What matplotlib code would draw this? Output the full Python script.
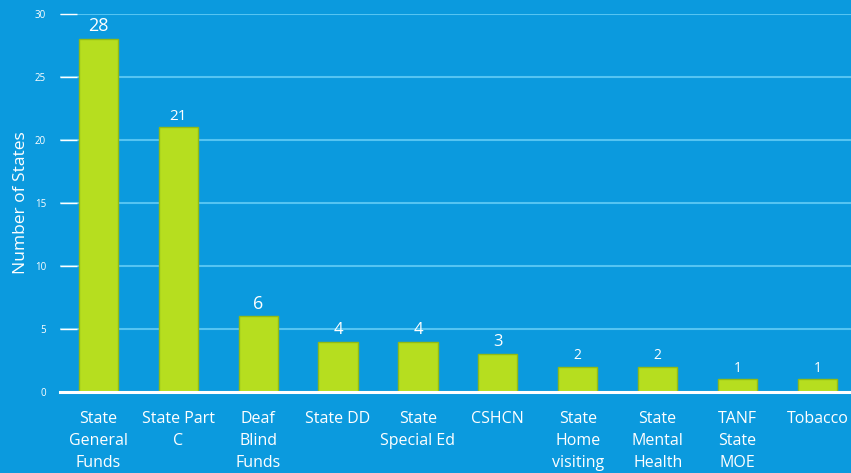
import matplotlib
matplotlib.use("Agg")
import matplotlib.pyplot as plt

# Data
categories = ["State\nGeneral\nFunds", "State Part\nC", "Deaf\nBlind\nFunds",
              "State DD", "State\nSpecial Ed", "CSHCN", "State\nHome\nvisiting",
              "State\nMental\nHealth", "TANF\nState\nMOE", "Tobacco"]
counts = [28, 21, 6, 4, 4, 3, 2, 2, 1, 1]
y_ticks = [0, 5, 10, 15, 20, 25, 30]

BG = "#0b9ade"
BAR = "#b6de1f"
BAR_EDGE = "#93bb12"
GRID = "#55c4f2"
label_sizes = [13, 11, 13, 12, 12, 12, 10, 10, 10, 10]

plt.rcParams["font.family"] = ["Open Sans", "DejaVu Sans"]

fig = plt.figure(figsize=(8.51, 4.73), dpi=100, facecolor=BG)
ax = fig.add_axes([60 / 851, (473 - 392) / 473, 791 / 851, 378 / 473])
ax.set_facecolor(BG)

x = list(range(len(categories)))
bars = ax.bar(x, counts, width=0.49, color=BAR, edgecolor=BAR_EDGE,
              linewidth=1, zorder=3)

for xi, v, fs in zip(x, counts, label_sizes):
    ax.text(xi, v + 0.3, str(v), ha="center", va="bottom",
            color="white", fontsize=fs, zorder=4)

ax.set_xlim(-0.48, 9.42)
ax.set_ylim(0, 30)
ax.set_yticks(y_ticks)
ax.set_yticklabels([str(t) for t in y_ticks], fontsize=7, color="white")
ax.set_xticks(x)
ax.set_xticklabels(categories, fontsize=11.5, color="white", linespacing=1.5)
ax.tick_params(axis="x", length=0, pad=14)
ax.tick_params(axis="y", length=12, direction="in", color="white", width=1, pad=10)

ax.yaxis.grid(True, color=GRID, linewidth=1.5, zorder=0)
ax.set_axisbelow(True)
for side in ("top", "right", "left"):
    ax.spines[side].set_visible(False)
ax.spines["bottom"].set_color("white")
ax.spines["bottom"].set_linewidth(2.2)
ax.spines["bottom"].set_zorder(5)

ax.set_ylabel("Number of States", fontsize=12.5, color="white")
ax.yaxis.set_label_coords(-31 / 791, 0.5)

fig.savefig("out.png", dpi=100, facecolor=BG)
